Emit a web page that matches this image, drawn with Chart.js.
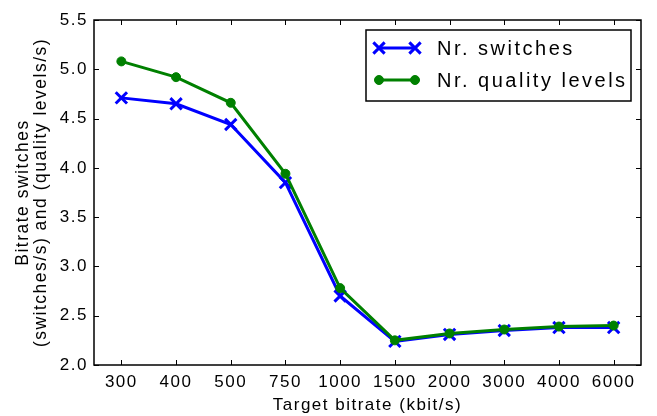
<!DOCTYPE html>
<html>
<head>
<meta charset="utf-8">
<script src="https://cdn.jsdelivr.net/npm/chart.js@4.4.1/dist/chart.umd.min.js"></script>
<style>
  html, body { margin: 0; padding: 0; background: #fff; }
  #wrap { width: 657px; height: 416px; }
</style>
</head>
<body>
<div id="wrap"><canvas id="lineChart" width="657" height="416"></canvas></div>
<script>
  'use strict';

  // data
  var bitrates = ['300', '400', '500', '750', '1000', '1500', '2000', '3000', '4000', '6000'];
  var switches = [4.71, 4.65, 4.44, 3.85, 2.70, 2.24, 2.31, 2.35, 2.38, 2.38];
  var qualityLevels = [5.08, 4.92, 4.66, 3.94, 2.78, 2.25, 2.32, 2.36, 2.39, 2.40];
  var yTicks = [2.0, 2.5, 3.0, 3.5, 4.0, 4.5, 5.0, 5.5];

  var fontFamily = "'Liberation Sans', Arial, Helvetica, sans-serif";

  // matplotlib-ish text spacing
  var spacingPlugin = {
    id: 'spacing',
    beforeUpdate: function(chart) { chart.ctx.letterSpacing = '1.5px'; },
    beforeDraw: function(chart) { chart.ctx.letterSpacing = '1.5px'; }
  };

  // box around the axes with inward ticks on all four sides
  var framePlugin = {
    id: 'frame',
    afterDatasetsDraw: function(chart) {
      var ctx = chart.ctx;
      var a = chart.chartArea;
      var xs = chart.scales.x, ys = chart.scales.y;
      var len = 5;
      ctx.save();
      ctx.strokeStyle = '#000';
      ctx.lineWidth = 1;
      ctx.beginPath();
      xs.ticks.forEach(function(t, i) {
        var px = Math.round(xs.getPixelForTick(i)) + 0.5;
        ctx.moveTo(px, a.bottom); ctx.lineTo(px, a.bottom - len);
        ctx.moveTo(px, a.top); ctx.lineTo(px, a.top + len);
      });
      ys.ticks.forEach(function(t, i) {
        var py = Math.round(ys.getPixelForTick(i)) + 0.5;
        ctx.moveTo(a.left, py); ctx.lineTo(a.left + len, py);
        ctx.moveTo(a.right, py); ctx.lineTo(a.right - len, py);
      });
      ctx.stroke();
      ctx.lineWidth = 1.5;
      ctx.strokeRect(a.left, a.top, a.right - a.left, a.bottom - a.top);
      ctx.restore();
    }
  };

  // legend box in the upper right corner
  var legendPlugin = {
    id: 'boxLegend',
    afterDraw: function(chart) {
      var ctx = chart.ctx;
      var a = chart.chartArea;
      var boxLeft = 366, boxTop = 30, boxRight = a.right - 10, boxBottom = 101;
      ctx.save();
      ctx.fillStyle = '#fff';
      ctx.fillRect(boxLeft, boxTop, boxRight - boxLeft, boxBottom - boxTop);
      ctx.strokeStyle = '#000';
      ctx.lineWidth = 1.5;
      ctx.strokeRect(boxLeft, boxTop, boxRight - boxLeft, boxBottom - boxTop);

      var rowY = [48, 80];
      chart.data.datasets.forEach(function(ds, i) {
        var y = rowY[i];
        var x0 = 379, x1 = 415;
        ctx.strokeStyle = ds.borderColor;
        ctx.lineWidth = ds.borderWidth;
        ctx.beginPath();
        ctx.moveTo(x0, y); ctx.lineTo(x1, y);
        ctx.stroke();
        ctx.fillStyle = ds.pointBackgroundColor;
        ctx.strokeStyle = ds.pointBorderColor;
        var opts = {
          pointStyle: ds.pointStyle,
          radius: ds.pointRadius,
          borderWidth: ds.pointBorderWidth,
          rotation: 0
        };
        ctx.lineWidth = ds.pointBorderWidth;
        Chart.helpers.drawPoint(ctx, opts, x0, y);
        Chart.helpers.drawPoint(ctx, opts, x1, y);
        ctx.fillStyle = '#000';
        ctx.letterSpacing = '2.5px';
        ctx.font = '20px ' + fontFamily;
        ctx.textAlign = 'left';
        ctx.textBaseline = 'middle';
        ctx.fillText(ds.label, 437, y + 1);
      });
      ctx.restore();
    }
  };

  var lineData = {
    labels: bitrates,
    datasets: [{
      label: 'Nr. switches',
      data: switches,
      borderColor: '#0000ff',
      backgroundColor: '#0000ff',
      borderWidth: 3,
      pointStyle: 'crossRot',
      pointRadius: 8,
      pointBorderWidth: 3,
      pointBorderColor: '#0000ff',
      pointBackgroundColor: '#0000ff',
      tension: 0,
      order: 1
    }, {
      label: 'Nr. quality levels',
      data: qualityLevels,
      borderColor: '#008000',
      backgroundColor: '#008000',
      borderWidth: 3,
      pointStyle: 'circle',
      pointRadius: 4.5,
      pointBorderWidth: 1,
      pointBorderColor: '#008000',
      pointBackgroundColor: '#008000',
      tension: 0,
      order: 0
    }]
  };

  var lineOptions = {
    responsive: false,
    animation: false,
    devicePixelRatio: 1,
    layout: { padding: { top: 20, right: 16, left: 0, bottom: 0 } },
    plugins: {
      legend: { display: false },
      tooltip: { enabled: false }
    },
    scales: {
      x: {
        type: 'category',
        offset: true,
        grid: { display: false, drawTicks: false },
        border: { display: false },
        ticks: {
          color: '#000',
          padding: 7,
          maxRotation: 0,
          autoSkip: false,
          font: { family: fontFamily, size: 17 }
        },
        title: {
          display: true,
          text: 'Target bitrate (kbit/s)',
          color: '#000',
          padding: { top: 0, bottom: 0 },
          font: { family: fontFamily, size: 17, lineHeight: 1.2 }
        },
        afterFit: function(scale) { scale.height = 51; }
      },
      y: {
        min: 2,
        max: 5.5,
        grid: { display: false, drawTicks: false },
        border: { display: false },
        afterBuildTicks: function(scale) {
          scale.ticks = yTicks.map(function(v) { return { value: v }; });
        },
        ticks: {
          color: '#000',
          padding: 6,
          font: { family: fontFamily, size: 17 },
          callback: function(v) { return Number(v).toFixed(1); }
        },
        title: {
          display: true,
          text: ['Bitrate switches', '(switches/s) and (quality levels/s)'],
          color: '#000',
          padding: { top: 14, bottom: 0 },
          font: { family: fontFamily, size: 17.5, lineHeight: 1.05 }
        },
        afterFit: function(scale) { scale.width = 94; }
      }
    }
  };

  var canvas = document.getElementById('lineChart');
  var lineChart = new Chart(canvas.getContext('2d'), {
    type: 'line',
    data: lineData,
    options: lineOptions,
    plugins: [spacingPlugin, framePlugin, legendPlugin]
  });
</script>
</body>
</html>
